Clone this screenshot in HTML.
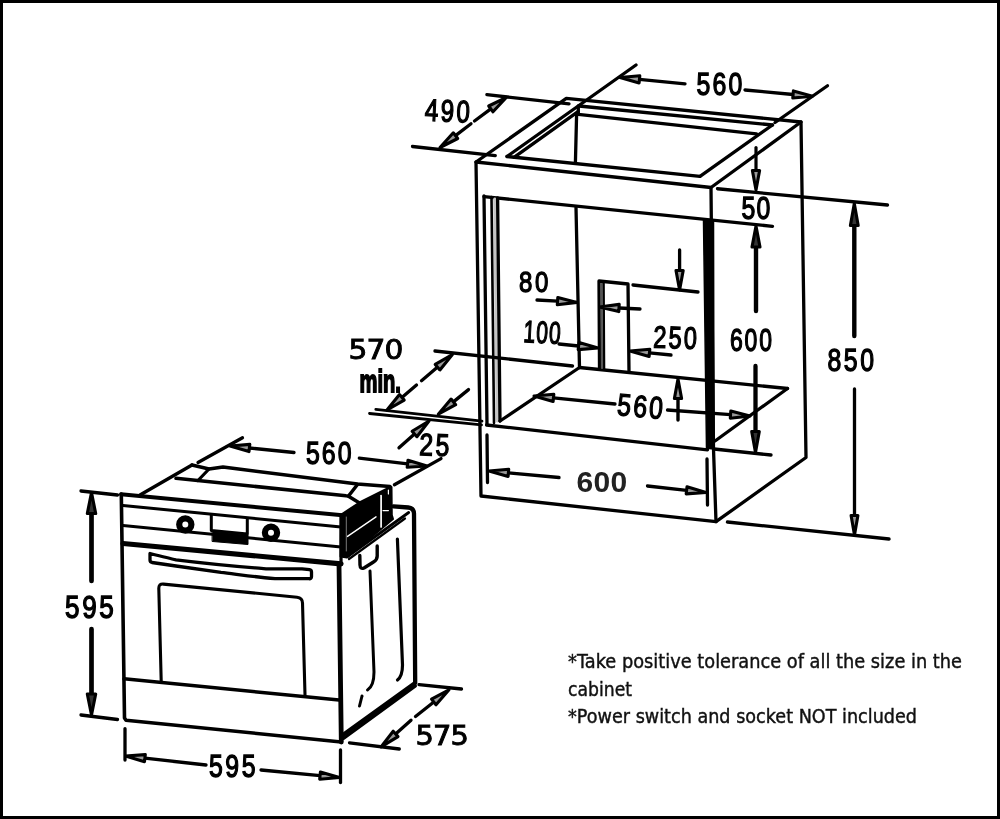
<!DOCTYPE html>
<html><head><meta charset="utf-8"><title>Oven installation dimensions</title>
<style>
html,body{margin:0;padding:0;background:#fff;}
#frame{position:relative;width:1000px;height:819px;box-sizing:border-box;border:3px solid #000;background:#fff;overflow:hidden;}
svg{position:absolute;left:-3px;top:-3px;filter:blur(0.6px);}
svg line, svg path, svg circle{stroke:#000;stroke-linecap:round;stroke-linejoin:round;}
svg text{fill:#000;}
</style></head><body>
<div id="frame">
<svg width="1000" height="819" viewBox="0 0 1000 819">
<g fill="none" stroke="#000">
<path d="M476 162 L711 187.5 L801 122 L566.3 98.4 Z" stroke-width="3.3" fill="none" />
<path d="M476 162 L481 496 L716 521.7 L806 457.5 L801 122" stroke-width="3.3" fill="none" />
<path d="M711 187.5 L713.5 449 L716 521.7" stroke-width="3.3" fill="none" />
<line x1="507" y1="156.5" x2="636" y2="65" stroke-width="3.3" />
<line x1="514" y1="157.3" x2="578" y2="111.6" stroke-width="3.3" />
<line x1="507" y1="156.5" x2="700" y2="176.3" stroke-width="3.3" />
<line x1="700" y1="176.3" x2="772.5" y2="125" stroke-width="3.3" />
<line x1="579" y1="106" x2="772.5" y2="125" stroke-width="3.3" />
<line x1="578.3" y1="114.3" x2="756.5" y2="133.8" stroke-width="3.3" />
<line x1="578.3" y1="106" x2="578.3" y2="114.3" stroke-width="3.3" />
<line x1="576.6" y1="114.6" x2="575.4" y2="163" stroke-width="3.3" />
<line x1="775" y1="122.5" x2="827.5" y2="85.75" stroke-width="3.3" />
<line x1="484" y1="196.6" x2="772.5" y2="226.3" stroke-width="3.3" />
<line x1="494.7" y1="199" x2="497.2" y2="421" stroke-width="3" style="stroke:#c4c4c4"/>
<line x1="484" y1="196" x2="487" y2="424.5" stroke-width="3.3" />
<line x1="491.5" y1="197" x2="494" y2="423" stroke-width="2.6" />
<line x1="497.6" y1="198" x2="500" y2="421" stroke-width="3.3" />
<line x1="486.6" y1="425" x2="707.5" y2="449.8" stroke-width="3.3" />
<path d="M703.5 220 L713.5 221 L714 449 L706.5 448.3 Z" stroke-width="1.5" fill="#000" />
<line x1="576" y1="207.5" x2="579.5" y2="367.5" stroke-width="3.3" />
<line x1="579.5" y1="367.5" x2="787.5" y2="388.5" stroke-width="3.3" />
<line x1="579.5" y1="367.5" x2="500" y2="421" stroke-width="3.3" />
<line x1="787.5" y1="388.5" x2="715" y2="441" stroke-width="3.3" />
<path d="M599.5 368 L599 281 L628 284 L629 372" stroke-width="3.3" fill="none" />
<line x1="603.5" y1="283" x2="604" y2="369" stroke-width="2.6" />
<line x1="601.5" y1="284" x2="602" y2="368" stroke-width="2.2" style="stroke:#555"/>
<line x1="486.9" y1="94.7" x2="569" y2="103.9" stroke-width="3.3" />
<line x1="412.5" y1="146.5" x2="495.3" y2="155.6" stroke-width="3.3" />
<line x1="474.5" y1="121" x2="490.8" y2="108.9" stroke-width="3.3" />
<path d="M506.5 97.3 L493.0 111.8 L488.7 106.0 Z" stroke-width="3.1" fill="#999" stroke-linejoin="miter"/>
<line x1="471" y1="123.7" x2="455.5" y2="135.6" stroke-width="3.3" />
<path d="M440.0 147.5 L453.3 132.8 L457.7 138.5 Z" stroke-width="3.1" fill="#999" stroke-linejoin="miter"/>
<text transform="translate(424.5 120.5) rotate(2.5) scale(0.78 1)" font-size="31" letter-spacing="3" stroke-width="1.35" font-family='"Liberation Sans", sans-serif' font-weight="normal" >490</text>
<line x1="685" y1="83.8" x2="639.4" y2="79.4" stroke-width="3.3" />
<path d="M620.0 77.5 L639.8 75.8 L639.1 82.9 Z" stroke-width="3.1" fill="#999" stroke-linejoin="miter"/>
<line x1="745" y1="90" x2="793.1" y2="94.5" stroke-width="3.3" />
<path d="M812.5 96.2 L792.8 98.0 L793.4 90.9 Z" stroke-width="3.1" fill="#999" stroke-linejoin="miter"/>
<text transform="translate(696.5 94.5) rotate(0) scale(0.8 1)" font-size="31" letter-spacing="2.7" stroke-width="1.35" font-family='"Liberation Sans", sans-serif' font-weight="normal" >560</text>
<line x1="756" y1="147.5" x2="756.0" y2="170.5" stroke-width="3.2" />
<path d="M756.0 190.0 L752.4 170.5 L759.6 170.5 Z" stroke-width="3.1" fill="#999" stroke-linejoin="miter"/>
<line x1="717.5" y1="188.75" x2="887.5" y2="205" stroke-width="3.3" />
<text transform="translate(741.5 218.5) rotate(0) scale(0.8 1)" font-size="31" letter-spacing="1.6" stroke-width="1.35" font-family='"Liberation Sans", sans-serif' font-weight="normal" >50</text>
<line x1="756" y1="311" x2="756.0" y2="247.0" stroke-width="4.4" />
<path d="M756.0 226.0 L760.0 247.0 L752.0 247.0 Z" stroke-width="3.1" fill="#333" stroke-linejoin="miter"/>
<line x1="755.5" y1="366" x2="755.5" y2="431.5" stroke-width="4.3" />
<path d="M755.5 452.5 L751.7 431.5 L759.3 431.5 Z" stroke-width="3.1" fill="#333" stroke-linejoin="miter"/>
<line x1="714" y1="449" x2="771" y2="455" stroke-width="3.3" />
<text transform="translate(730 350.5) rotate(0) scale(0.74 1)" font-size="31" letter-spacing="2.5" stroke-width="1.35" font-family='"Liberation Sans", sans-serif' font-weight="normal" >600</text>
<line x1="854.3" y1="336" x2="854.3" y2="225.5" stroke-width="4.4" />
<path d="M854.3 203.5 L858.2 225.5 L850.4 225.5 Z" stroke-width="3.1" fill="#333" stroke-linejoin="miter"/>
<line x1="854.5" y1="389" x2="854.5" y2="515.5" stroke-width="3.3" />
<path d="M854.5 535.0 L851.1 515.5 L857.9 515.5 Z" stroke-width="3.1" fill="#999" stroke-linejoin="miter"/>
<line x1="727.5" y1="522" x2="889" y2="539" stroke-width="3.3" />
<text transform="translate(827.5 371.2) rotate(0) scale(0.8 1)" font-size="31" letter-spacing="3.2" stroke-width="1.35" font-family='"Liberation Sans", sans-serif' font-weight="normal" >850</text>
<line x1="537" y1="300" x2="557.5" y2="301.2" stroke-width="3.3" />
<path d="M577.0 302.4 L557.3 304.8 L557.8 297.6 Z" stroke-width="3.1" fill="#999" stroke-linejoin="miter"/>
<line x1="640" y1="309" x2="619.0" y2="308.0" stroke-width="3.3" />
<path d="M599.5 307.0 L619.2 304.4 L618.8 311.6 Z" stroke-width="3.1" fill="#999" stroke-linejoin="miter"/>
<text transform="translate(519 291.5) rotate(0) scale(0.8 1)" font-size="30" letter-spacing="3.2" stroke-width="1.35" font-family='"Liberation Sans", sans-serif' font-weight="normal" >80</text>
<line x1="559" y1="344" x2="578.6" y2="346.0" stroke-width="3.3" />
<path d="M598.0 348.0 L578.2 349.6 L579.0 342.4 Z" stroke-width="3.1" fill="#999" stroke-linejoin="miter"/>
<text transform="translate(523 342) rotate(3) scale(0.68 1)" font-size="31" letter-spacing="1.5" stroke-width="1.35" font-family='"Liberation Sans", sans-serif' font-weight="normal" >100</text>
<line x1="671" y1="355" x2="649.4" y2="352.9" stroke-width="3.3" />
<path d="M630.0 351.0 L649.8 349.3 L649.1 356.5 Z" stroke-width="3.1" fill="#999" stroke-linejoin="miter"/>
<text transform="translate(653 347.5) rotate(2) scale(0.76 1)" font-size="31" letter-spacing="2.8" stroke-width="1.35" font-family='"Liberation Sans", sans-serif' font-weight="normal" >250</text>
<line x1="679.6" y1="250" x2="679.6" y2="270.5" stroke-width="3.3" />
<path d="M679.6 290.0 L676.0 270.5 L683.2 270.5 Z" stroke-width="3.1" fill="#999" stroke-linejoin="miter"/>
<line x1="633" y1="285" x2="698" y2="292" stroke-width="3.3" />
<line x1="678" y1="420" x2="678.0" y2="398.5" stroke-width="3.4" />
<path d="M678.0 379.0 L681.6 398.5 L674.4 398.5 Z" stroke-width="3.1" fill="#999" stroke-linejoin="miter"/>
<line x1="615" y1="404" x2="553.4" y2="397.9" stroke-width="3.3" />
<path d="M534.0 396.0 L553.8 394.3 L553.1 401.5 Z" stroke-width="3.1" fill="#999" stroke-linejoin="miter"/>
<line x1="667.5" y1="410" x2="730.6" y2="414.6" stroke-width="3.3" />
<path d="M750.0 416.0 L730.3 418.2 L730.8 411.0 Z" stroke-width="3.1" fill="#999" stroke-linejoin="miter"/>
<text transform="translate(616.5 415) rotate(5) scale(0.8 1)" font-size="31" letter-spacing="2.7" stroke-width="1.35" font-family='"Liberation Sans", sans-serif' font-weight="normal" >560</text>
<line x1="487" y1="435" x2="487.5" y2="482.5" stroke-width="3.3" />
<line x1="707" y1="459" x2="707.5" y2="505" stroke-width="3.3" />
<line x1="559" y1="477.5" x2="508.4" y2="472.8" stroke-width="3.3" />
<path d="M489.0 471.0 L508.7 469.2 L508.1 476.4 Z" stroke-width="3.1" fill="#999" stroke-linejoin="miter"/>
<line x1="647.5" y1="486" x2="686.6" y2="490.3" stroke-width="3.3" />
<path d="M706.0 492.5 L686.2 493.9 L687.0 486.8 Z" stroke-width="3.1" fill="#999" stroke-linejoin="miter"/>
<text transform="translate(576.5 491.5) rotate(0) scale(1 1)" font-size="30" letter-spacing="0.3" stroke-width="0" font-family='"Liberation Sans", sans-serif' font-weight="bold" style="fill:#222">600</text>
<line x1="435" y1="351" x2="572.5" y2="366" stroke-width="3.3" />
<line x1="375.8" y1="409.3" x2="482" y2="421.2" stroke-width="2.8" />
<line x1="369.5" y1="413.5" x2="481.5" y2="424.8" stroke-width="2.8" />
<line x1="421.5" y1="380.8" x2="437.6" y2="367.1" stroke-width="3.3" />
<path d="M452.4 354.5 L439.9 369.9 L435.2 364.4 Z" stroke-width="3.1" fill="#999" stroke-linejoin="miter"/>
<line x1="416.5" y1="385" x2="401.9" y2="397.4" stroke-width="3.3" />
<path d="M387.0 410.0 L399.5 394.6 L404.2 400.1 Z" stroke-width="3.1" fill="#999" stroke-linejoin="miter"/>
<text transform="translate(348.5 359) rotate(0) scale(1.12 1)" font-size="26.5" letter-spacing="-0.8" stroke-width="0.9" font-family='"DejaVu Sans", "Liberation Sans", sans-serif' font-weight="normal" >570</text>
<text transform="translate(359.5 391.5) rotate(0) scale(0.63 1)" font-size="32" letter-spacing="0" stroke-width="1.8" font-family='"Liberation Sans", sans-serif' font-weight="bold" >min.</text>
<line x1="468.5" y1="389.6" x2="453.4" y2="401.9" stroke-width="3.3" />
<path d="M438.3 414.2 L451.1 399.1 L455.7 404.7 Z" stroke-width="3.1" fill="#999" stroke-linejoin="miter"/>
<line x1="399" y1="447.8" x2="414.5" y2="434.0" stroke-width="3.3" />
<path d="M429.0 421.0 L416.9 436.7 L412.1 431.3 Z" stroke-width="3.1" fill="#999" stroke-linejoin="miter"/>
<text transform="translate(419 455) rotate(2) scale(0.8 1)" font-size="31" letter-spacing="3.2" stroke-width="1.35" font-family='"Liberation Sans", sans-serif' font-weight="normal" >25</text>
<path d="M121.3 494 L124.5 718 L126 720.2 L341.3 742" stroke-width="3.6" fill="none" />
<line x1="341.3" y1="742" x2="339" y2="564" stroke-width="4.8" />
<path d="M121 494.3 L342.5 515.3" stroke-width="3.9" fill="none" />
<line x1="341.3" y1="515" x2="341" y2="564" stroke-width="3.2" />
<line x1="123" y1="505.5" x2="341" y2="527" stroke-width="3.1" />
<line x1="123" y1="525.5" x2="341" y2="547" stroke-width="3.1" />
<line x1="123" y1="543.5" x2="341" y2="563.8" stroke-width="5.2" />
<circle cx="185.3" cy="524.5" r="6.1" stroke-width="6.2" fill="#fff"/>
<circle cx="271" cy="532.7" r="6.1" stroke-width="6.2" fill="#fff"/>
<path d="M211.3 515 L211.3 530.5 L247.3 534 L247.3 519" stroke-width="3" fill="none" />
<path d="M212.5 531.5 L248 535 L248 544.5 L212.5 541.5 Z" stroke-width="1" fill="#000" />
<path d="M150 553.5 C160 556 170 558.5 176 559.8 C210 564 250 567.5 266 568.8 L302 568.8 L309.5 569.7 Q311.5 570 311.5 572 L311.5 576.5 Q311.5 579 309 578.7 L275 578.7 C255 577 235 574 221 572.4 L176 566 L152 562.5 Q150 562 150 560 Z" stroke-width="3.3" fill="#fff"/>
<path d="M161.2 681 L158.8 588.5 Q158.7 583.6 163.5 584.1 L297 597.2 Q302.4 597.8 302.5 603 L305 695" stroke-width="3.1" fill="none"/>
<line x1="124" y1="678.8" x2="339" y2="700" stroke-width="3.5" />
<line x1="140" y1="495" x2="192" y2="465" stroke-width="3.4" />
<line x1="198" y1="462.5" x2="242.5" y2="437.7" stroke-width="3.3" />
<path d="M192 465 L209 469 L223 467 L357.5 484 L390 486.5" stroke-width="3.5" fill="none" />
<line x1="209" y1="469" x2="198" y2="480.5" stroke-width="3.2" />
<path d="M176 478.3 L346 495.8 L348.5 496 L357.5 484.5" stroke-width="3.5" fill="none" />
<line x1="348.5" y1="496.3" x2="359.5" y2="503" stroke-width="3.5" />
<path d="M340.5 515 L359.5 502.5 L386.5 489 L391.5 487 L391.8 515 L393 519 L347 557.5 L340.5 556.5 Z" stroke-width="2" fill="#000" />
<line x1="347.5" y1="536.4" x2="376" y2="516.8" stroke-width="1.4" style="stroke:#fff"/>
<line x1="381.1" y1="495.5" x2="381.1" y2="527" stroke-width="1.7" style="stroke:#fff"/>
<line x1="346.3" y1="517" x2="346.3" y2="551" stroke-width="0.8" style="stroke:#999"/>
<line x1="388.4" y1="490" x2="388.4" y2="494" stroke-width="1.2" style="stroke:#fff"/>
<line x1="383" y1="510.6" x2="388.4" y2="510.6" stroke-width="1.2" style="stroke:#fff"/>
<path d="M393.5 506.3 L408.3 507.5 Q413.8 508 414 513.5 L415.2 683 L343 735" stroke-width="4.3" fill="none"/>
<line x1="408.7" y1="512.5" x2="347.5" y2="556.5" stroke-width="2.8" />
<line x1="405" y1="518.5" x2="349" y2="559" stroke-width="2.2" />
<line x1="415.5" y1="686" x2="343.5" y2="738.5" stroke-width="3" />
<path d="M359.8 555.5 L360 565 Q360.2 569.5 364 568 L373.5 562 Q377.2 560 377.2 556 L377.2 546" stroke-width="3.4" fill="none"/>
<path d="M370 571 L374 672 Q374 686 367.5 690" stroke-width="3" fill="none"/>
<line x1="362" y1="696" x2="359.5" y2="706" stroke-width="3" />
<path d="M397.4 539 L402.5 665 Q402.5 676 397.5 680" stroke-width="3.2" fill="none"/>
<line x1="81" y1="491" x2="117.5" y2="495" stroke-width="3.3" />
<line x1="81" y1="715" x2="117.5" y2="719.5" stroke-width="3.3" />
<line x1="91.5" y1="581" x2="91.5" y2="513.5" stroke-width="4.7" />
<path d="M91.5 492.5 L95.7 513.5 L87.3 513.5 Z" stroke-width="3.1" fill="#333" stroke-linejoin="miter"/>
<line x1="91.5" y1="629" x2="91.5" y2="694.0" stroke-width="4.7" />
<path d="M91.5 715.0 L87.3 694.0 L95.7 694.0 Z" stroke-width="3.1" fill="#333" stroke-linejoin="miter"/>
<text transform="translate(65 617.5) rotate(0) scale(0.84 1)" font-size="31" letter-spacing="3.2" stroke-width="1.35" font-family='"Liberation Sans", sans-serif' font-weight="normal" >595</text>
<line x1="125" y1="728.7" x2="125" y2="760" stroke-width="3.3" />
<line x1="340.5" y1="750" x2="340.5" y2="782.5" stroke-width="3.3" />
<line x1="206" y1="765" x2="144.9" y2="758.2" stroke-width="3.3" />
<path d="M125.5 756.0 L145.3 754.6 L144.5 761.7 Z" stroke-width="3.1" fill="#999" stroke-linejoin="miter"/>
<line x1="261" y1="770" x2="320.1" y2="775.6" stroke-width="3.3" />
<path d="M339.5 777.5 L319.7 779.2 L320.4 772.1 Z" stroke-width="3.1" fill="#999" stroke-linejoin="miter"/>
<text transform="translate(209 777) rotate(0) scale(0.8 1)" font-size="31" letter-spacing="3.2" stroke-width="1.35" font-family='"Liberation Sans", sans-serif' font-weight="normal" >595</text>
<line x1="294" y1="452.5" x2="249.4" y2="448.0" stroke-width="3.3" />
<path d="M230.0 446.0 L249.8 444.4 L249.0 451.6 Z" stroke-width="3.1" fill="#999" stroke-linejoin="miter"/>
<line x1="359.3" y1="458.2" x2="407.6" y2="463.8" stroke-width="3.3" />
<path d="M427.0 466.0 L407.2 467.3 L408.0 460.2 Z" stroke-width="3.1" fill="#999" stroke-linejoin="miter"/>
<line x1="394.4" y1="484.7" x2="441" y2="458.6" stroke-width="3.3" />
<text transform="translate(306 463.5) rotate(0) scale(0.8 1)" font-size="31" letter-spacing="2.6" stroke-width="1.35" font-family='"Liberation Sans", sans-serif' font-weight="normal" >560</text>
<line x1="419" y1="684.6" x2="461.5" y2="689" stroke-width="3.3" />
<line x1="349.5" y1="742.8" x2="399.3" y2="749" stroke-width="3.3" />
<line x1="415.5" y1="716.5" x2="433.8" y2="702.0" stroke-width="3.3" />
<path d="M449.0 689.8 L436.0 704.8 L431.5 699.1 Z" stroke-width="3.1" fill="#999" stroke-linejoin="miter"/>
<line x1="411" y1="720.2" x2="395.6" y2="733.9" stroke-width="3.3" />
<path d="M381.0 746.9 L393.2 731.2 L398.0 736.6 Z" stroke-width="3.1" fill="#999" stroke-linejoin="miter"/>
<text transform="translate(415.5 745) rotate(0) scale(1.09 1)" font-size="26.5" letter-spacing="-0.8" stroke-width="0.9" font-family='"DejaVu Sans", "Liberation Sans", sans-serif' font-weight="normal" >575</text>
</g>
<text font-family='"DejaVu Sans", "Liberation Sans", sans-serif' font-size="20" style="fill:#111" stroke="#111" stroke-width="0.45">
<tspan x="568" y="668.3" textLength="394" lengthAdjust="spacingAndGlyphs">*Take positive tolerance of all the size in the</tspan>
<tspan x="568" y="695.5" textLength="64" lengthAdjust="spacingAndGlyphs">cabinet</tspan>
<tspan x="568" y="722.8" textLength="349" lengthAdjust="spacingAndGlyphs">*Power switch and socket NOT included</tspan>
</text>
</svg>
</div>
</body></html>
